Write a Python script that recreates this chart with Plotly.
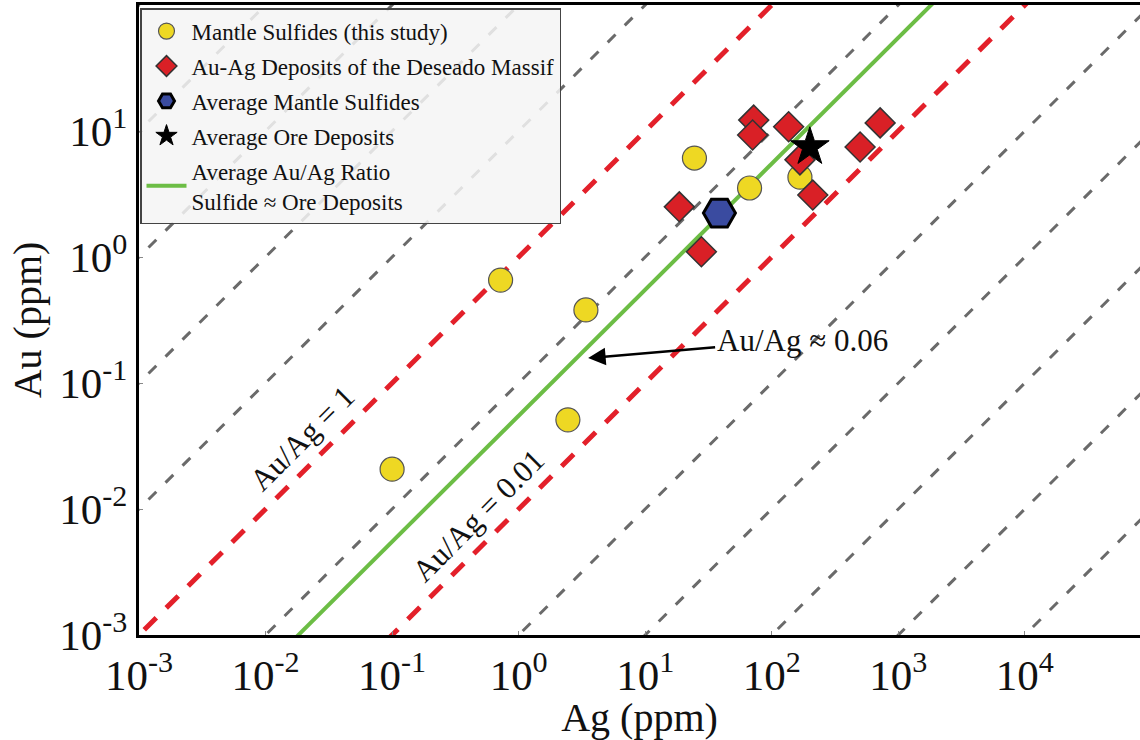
import numpy as np
import plotly.graph_objects as go

# ---------------- data ----------------
# Mantle sulfides (this study)
ms_ag = [0.10, 0.72, 3.4, 2.45, 24.5, 66.8, 167]
ms_au = [0.0207, 0.656, 0.38, 0.051, 6.1, 3.53, 4.3]

# Au-Ag deposits of the Deseado Massif
dep_ag = [72, 70.6, 136, 167, 211, 499, 719, 18.6, 27.8]
dep_au = [12.2, 9.3, 10.8, 5.9, 3.1, 7.46, 11.6, 2.5, 1.10]

# Averages
avg_ms_ag = [38.6]
avg_ms_au = [2.23]
avg_ore_ag = [200]
avg_ore_au = [7.46]

# Reference Au/Ag ratio lines
grey_ratios = [1e5, 1e4, 1e3, 1e2, 1e1, 1e-1, 1e-3, 1e-4, 1e-5, 1e-6, 1e-7]
red_ratios = [1.0, 0.01]
avg_ratio = 0.055
line_ag = [1e-4, 1e6]

tick_vals_x = [1e-3, 1e-2, 1e-1, 1e0, 1e1, 1e2, 1e3, 1e4]
tick_text_x = ["10<sup>-3</sup>", "10<sup>-2</sup>", "10<sup>-1</sup>", "10<sup>0</sup>",
               "10<sup>1</sup>", "10<sup>2</sup>", "10<sup>3</sup>", "10<sup>4</sup>"]
tick_vals_y = [1e-3, 1e-2, 1e-1, 1e0, 1e1]
tick_text_y = ["10<sup>-3</sup>", "10<sup>-2</sup>", "10<sup>-1</sup>", "10<sup>0</sup>", "10<sup>1</sup>"]

FONT = "Liberation Serif, Times New Roman, serif"

fig = go.Figure()

for r in grey_ratios:
    fig.add_trace(go.Scatter(
        x=line_ag, y=[r * v for v in line_ag], mode="lines",
        line=dict(color="#6a6a6a", width=3, dash="11px,13px"),
        showlegend=False, hoverinfo="skip"))

for r in red_ratios:
    fig.add_trace(go.Scatter(
        x=line_ag, y=[r * v for v in line_ag], mode="lines",
        line=dict(color="#e3202a", width=5, dash="17px,14px"),
        showlegend=False, hoverinfo="skip"))

fig.add_trace(go.Scatter(
    x=line_ag, y=[avg_ratio * v for v in line_ag], mode="lines",
    line=dict(color="#6cbd45", width=4),
    name="Average Au/Ag Ratio<br>Sulfide \u2248 Ore Deposits",
    legendgroup="g5", legendrank=5))

fig.add_trace(go.Scatter(
    x=ms_ag, y=ms_au, mode="markers",
    marker=dict(symbol="circle", size=24, color="#eed823",
                line=dict(color="#555555", width=1.2)),
    name="Mantle Sulfides (this study)", legendgroup="g1", legendrank=1))

fig.add_trace(go.Scatter(
    x=dep_ag, y=dep_au, mode="markers",
    marker=dict(symbol="diamond", size=23, color="#d92026",
                line=dict(color="#333333", width=1.5)),
    name="Au-Ag Deposits of the Deseado Massif", legendgroup="g2", legendrank=2))

fig.add_trace(go.Scatter(
    x=avg_ms_ag, y=avg_ms_au, mode="markers",
    marker=dict(symbol="hexagon2", size=32, color="#3a4ba0",
                line=dict(color="#000000", width=3)),
    name="Average Mantle Sulfides", legendgroup="g3", legendrank=3))

fig.add_trace(go.Scatter(
    x=avg_ore_ag, y=avg_ore_au, mode="markers",
    marker=dict(symbol="star", size=29, color="#000000",
                line=dict(color="#000000", width=1)),
    name="Average Ore Deposits", legendgroup="g4", legendrank=4))

fig.update_layout(
    width=1140, height=740,
    margin=dict(l=139, r=0, t=5, b=105, autoexpand=False),
    paper_bgcolor="white", plot_bgcolor="white",
    font=dict(family=FONT, color="#111111"),
    showlegend=True,
    legend=dict(x=0.001, y=0.995, xanchor="left", yanchor="top",
                bgcolor="rgba(244,244,244,0.85)", bordercolor="#444444", borderwidth=1.5,
                font=dict(family=FONT, size=23, color="#111111"),
                itemwidth=40, traceorder="grouped", tracegroupgap=2),
    xaxis=dict(type="log", range=[-3, 4.91], showgrid=False, zeroline=False, automargin=False,
               showline=True, linecolor="black", linewidth=3, mirror=True,
               tickvals=tick_vals_x, ticktext=tick_text_x,
               ticks="inside", ticklen=4, tickcolor="#888888",
               tickfont=dict(family=FONT, size=43, color="#111111"),
               title=dict(text="Ag (ppm)", font=dict(family=FONT, size=40, color="#111111"), standoff=0)),
    yaxis=dict(type="log", range=[-3, 2], showgrid=False, zeroline=False, automargin=False,
               showline=True, linecolor="black", linewidth=3, mirror=False,
               tickvals=tick_vals_y, ticktext=tick_text_y,
               ticks="inside", ticklen=4, tickcolor="#888888",
               tickfont=dict(family=FONT, size=43, color="#111111"),
               title=dict(text="Au (ppm)", font=dict(family=FONT, size=40, color="#111111"), standoff=6)),
)

fig.add_annotation(x=-1.711, y=-1.444, xref="x", yref="y", text="Au/Ag = 1",
                   showarrow=False, textangle=-45,
                   font=dict(family=FONT, size=31, color="#111111"))
fig.add_annotation(x=-0.320, y=-2.048, xref="x", yref="y", text="Au/Ag = 0.01",
                   showarrow=False, textangle=-45,
                   font=dict(family=FONT, size=31, color="#111111"))
fig.add_annotation(x=0.549, y=-0.802, xref="x", yref="y", text="Au/Ag \u2248 0.06",
                   showarrow=True, ax=214, ay=-18, arrowhead=2, arrowsize=1.4,
                   arrowwidth=2.5, arrowcolor="#000000",
                   font=dict(family=FONT, size=31, color="#111111"))

fig.write_html("out.html", config={"displayModeBar": False},
               post_script="document.body.style.margin='0';")
